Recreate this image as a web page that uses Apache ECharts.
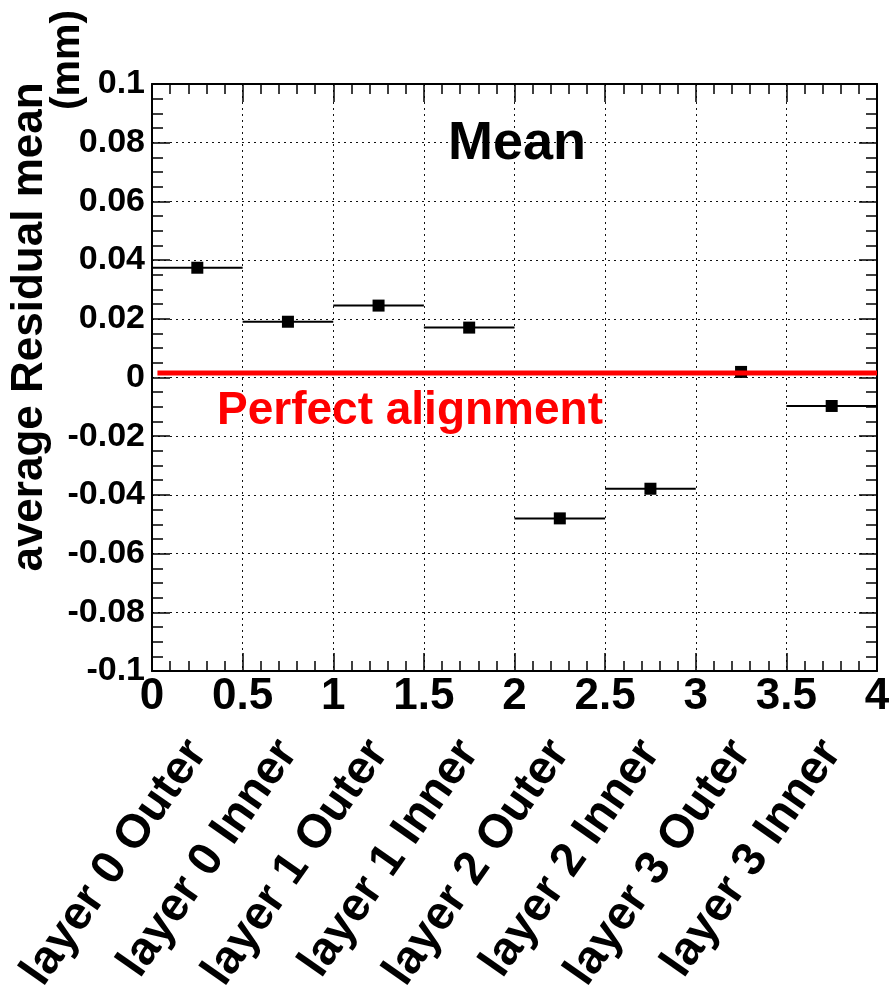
<!DOCTYPE HTML>
<html lang="en">
<head>
    <meta charset="utf-8">
    <title>average Residual mean</title>
    <style>
        html, body { margin: 0; padding: 0; background: #fff; }
        #myChart { width: 891px; height: 997px; }
    </style>
</head>
<body>
<div id="myChart"></div>

<script src="https://cdn.jsdelivr.net/npm/echarts@6.0.0/dist/echarts.min.js"></script>
<script>
    // bins (x axis 0..4, width 0.5)
    var binCenters = [0.25, 0.75, 1.25, 1.75, 2.25, 2.75, 3.25, 3.75];
    var binHalfWidth = 0.25;
    var binLabels = ['layer 0 Outer', 'layer 0 Inner', 'layer 1 Outer', 'layer 1 Inner',
        'layer 2 Outer', 'layer 2 Inner', 'layer 3 Outer', 'layer 3 Inner'];
    // residual mean per bin (mm)
    var meanValues = [0.0374, 0.019, 0.0245, 0.017, -0.048, -0.0379, 0.0019, -0.0097];
    // red reference line
    var alignmentLevel = 0.0015;
    var alignmentX = [0.03, 4];

    var FONT = 'Liberation Sans, Arial, sans-serif';

    chartFn();
    function chartFn() {
        var chart = echarts.init(document.getElementById('myChart'));

        var errData = [], markData = [];
        for (var i = 0; i < meanValues.length; i++) {
            errData.push([binCenters[i] - binHalfWidth, binCenters[i] + binHalfWidth, meanValues[i]]);
            markData.push([binCenters[i], meanValues[i]]);
        }
        var lineData = alignmentX.map(function (x) { return [x, alignmentLevel]; });

        var dotted = { show: true, lineStyle: { color: '#111', width: 1, type: [2, 4] } };
        var frame = { show: true, onZero: false, lineStyle: { color: '#000', width: 2 } };

        var option = {
            backgroundColor: '#fff',
            animation: false,
            grid: {
                left: 152, right: 14, top: 84, bottom: 326,
                outerBoundsMode: 'none'
            },
            xAxis: [{
                type: 'value', min: 0, max: 4, interval: 0.5, position: 'bottom',
                axisLine: frame,
                axisTick: { show: true, inside: true, length: 18, lineStyle: { color: '#000', width: 1.5 } },
                minorTick: { show: true, splitNumber: 5, length: 10, lineStyle: { color: '#000', width: 1.5 } },
                splitLine: dotted,
                axisLabel: {
                    color: '#000', fontFamily: FONT, fontWeight: 'bold', fontSize: 44, margin: 4,
                    formatter: function (v) { return String(parseFloat(v.toFixed(2))); }
                }
            }, {
                type: 'value', min: 0, max: 4, interval: 0.5, position: 'top',
                axisLine: frame,
                axisTick: { show: true, inside: true, length: 18, lineStyle: { color: '#000', width: 1.5 } },
                minorTick: { show: true, splitNumber: 5, length: 10, lineStyle: { color: '#000', width: 1.5 } },
                splitLine: { show: false },
                axisLabel: { show: false }
            }, {
                type: 'category', position: 'bottom', offset: 62, data: binLabels,
                axisLine: { show: false }, axisTick: { show: false },
                splitLine: { show: false },
                axisLabel: {
                    interval: 0, rotate: 55, margin: 12,
                    color: '#000', fontFamily: FONT, fontWeight: 'bold', fontSize: 47
                }
            }],
            yAxis: [{
                type: 'value', min: -0.1, max: 0.1, interval: 0.02, position: 'left',
                axisLine: frame,
                axisTick: { show: true, inside: true, length: 18, lineStyle: { color: '#000', width: 1.5 } },
                minorTick: { show: true, splitNumber: 4, length: 11, lineStyle: { color: '#000', width: 1.5 } },
                splitLine: dotted,
                axisLabel: {
                    color: '#000', fontFamily: FONT, fontWeight: 'bold', fontSize: 34, margin: 7,
                    formatter: function (v) { return String(parseFloat(v.toFixed(3))); }
                }
            }, {
                type: 'value', min: -0.1, max: 0.1, interval: 0.02, position: 'right',
                axisLine: frame,
                axisTick: { show: true, inside: true, length: 18, lineStyle: { color: '#000', width: 1.5 } },
                minorTick: { show: true, splitNumber: 4, length: 11, lineStyle: { color: '#000', width: 1.5 } },
                splitLine: { show: false },
                axisLabel: { show: false }
            }],
            graphic: [{
                type: 'text', x: 30, y: 327, rotation: Math.PI / 2,
                style: { text: 'average Residual mean', font: 'bold 44px ' + FONT, fill: '#000',
                    textAlign: 'center', textVerticalAlign: 'middle' }
            }, {
                type: 'text', x: 68, y: 60, rotation: Math.PI / 2,
                style: { text: '(mm)', font: 'bold 41px ' + FONT, fill: '#000',
                    textAlign: 'center', textVerticalAlign: 'middle' }
            }, {
                type: 'text', x: 517, y: 144, z: 100,
                style: { text: 'Mean', font: 'bold 54px ' + FONT, fill: '#000',
                    textAlign: 'center', textVerticalAlign: 'middle' }
            }, {
                type: 'text', x: 410, y: 411, z: 100,
                style: { text: 'Perfect alignment', font: 'bold 46px ' + FONT, fill: '#ff0000',
                    textAlign: 'center', textVerticalAlign: 'middle' }
            }],
            series: [{
                name: 'bin width',
                type: 'custom',
                xAxisIndex: 0, yAxisIndex: 0,
                data: errData,
                encode: { x: [0, 1], y: 2 },
                renderItem: function (params, api) {
                    var a = api.coord([api.value(0), api.value(2)]);
                    var b = api.coord([api.value(1), api.value(2)]);
                    return {
                        type: 'line',
                        shape: { x1: a[0], y1: a[1], x2: b[0], y2: b[1] },
                        style: { stroke: '#000', lineWidth: 2 }
                    };
                },
                z: 3
            }, {
                name: 'mean',
                type: 'scatter',
                xAxisIndex: 0, yAxisIndex: 0,
                data: markData,
                symbol: 'rect', symbolSize: 12,
                itemStyle: { color: '#000', opacity: 1 },
                z: 4
            }, {
                name: 'Perfect alignment',
                type: 'line',
                xAxisIndex: 0, yAxisIndex: 0,
                data: lineData,
                showSymbol: false, symbol: 'none',
                lineStyle: { color: '#ff0000', width: 5 },
                z: 5
            }]
        };
        chart.setOption(option);
    }
</script>
</body>
</html>
